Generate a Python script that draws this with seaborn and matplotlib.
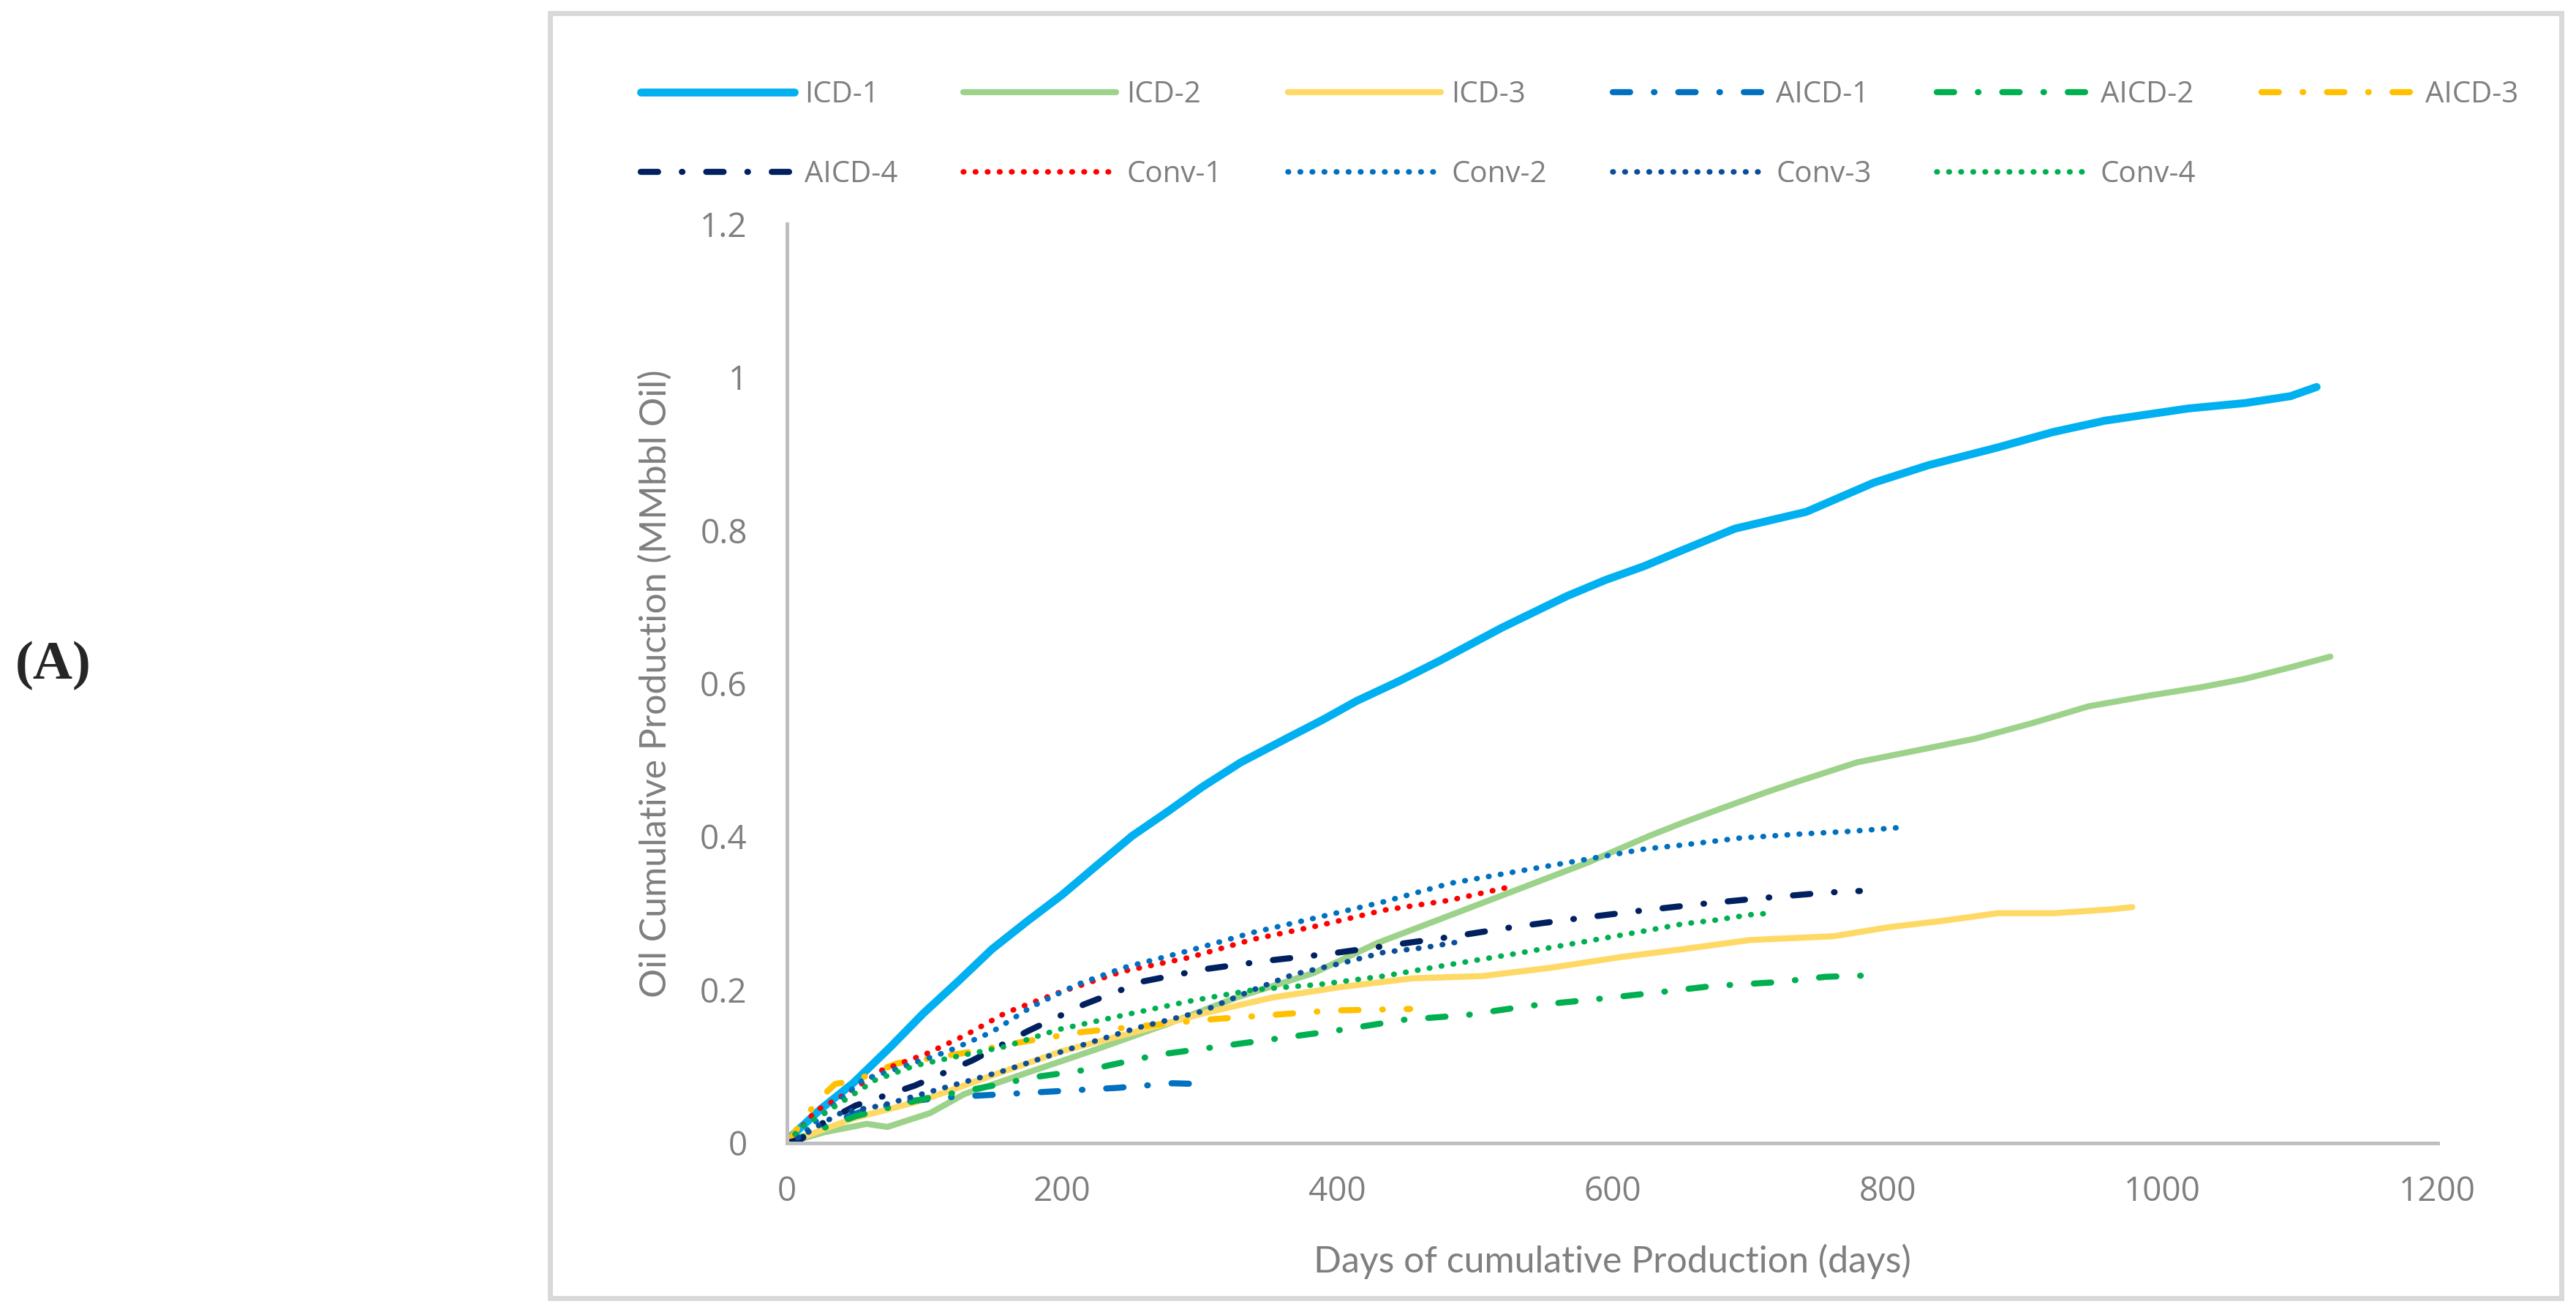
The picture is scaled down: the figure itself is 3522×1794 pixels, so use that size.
import numpy as np
import pandas as pd
import seaborn as sns
import matplotlib.pyplot as plt
from matplotlib.patches import Rectangle

# values (days, MMbbl oil)
icd1_days = [0, 2, 25, 48, 75, 99, 125, 149, 175, 200, 225, 251, 277, 302, 330, 363, 390, 414, 445, 475, 520, 567, 595, 623, 651, 689, 741, 790, 830, 880, 920, 958, 1019, 1060, 1093, 1112]
icd1_vals = [0, 0.007, 0.045, 0.078, 0.125, 0.169, 0.212, 0.253, 0.290, 0.324, 0.362, 0.401, 0.433, 0.465, 0.497, 0.528, 0.553, 0.577, 0.603, 0.630, 0.673, 0.714, 0.735, 0.753, 0.774, 0.802, 0.824, 0.862, 0.885, 0.908, 0.928, 0.943, 0.959, 0.966, 0.975, 0.987]

icd2_days = [0, 27, 58, 73, 104, 129, 175, 226, 276, 327, 383, 429, 470, 521, 582, 627, 651, 678, 712, 735, 778, 820, 864, 905, 946, 990, 1028, 1060, 1093, 1122]
icd2_vals = [0, 0.014, 0.025, 0.021, 0.039, 0.064, 0.092, 0.123, 0.155, 0.190, 0.222, 0.261, 0.289, 0.324, 0.366, 0.401, 0.418, 0.436, 0.458, 0.472, 0.497, 0.512, 0.528, 0.548, 0.570, 0.584, 0.595, 0.606, 0.621, 0.635]

icd3_days = [0, 48, 99, 149, 200, 251, 302, 353, 404, 455, 506, 556, 607, 651, 700, 761, 802, 840, 880, 921, 962, 978]
icd3_vals = [0, 0.032, 0.056, 0.088, 0.120, 0.144, 0.169, 0.190, 0.204, 0.215, 0.218, 0.229, 0.243, 0.253, 0.265, 0.270, 0.282, 0.290, 0.300, 0.300, 0.305, 0.308]

aicd1_days = [0, 10, 30, 60, 90, 120, 160, 200, 240, 280, 301]
aicd1_vals = [0, 0.005, 0.025, 0.045, 0.055, 0.060, 0.064, 0.068, 0.072, 0.078, 0.077]

aicd2_days = [0, 20, 50, 100, 150, 180, 223, 269, 314, 359, 404, 449, 494, 539, 584, 630, 673, 720, 755, 790]
aicd2_vals = [0, 0.015, 0.035, 0.058, 0.075, 0.086, 0.097, 0.115, 0.126, 0.137, 0.148, 0.161, 0.167, 0.179, 0.187, 0.196, 0.205, 0.210, 0.217, 0.219]

aicd3_days = [0, 10, 22, 35, 50, 80, 127, 171, 215, 260, 305, 351, 396, 453]
aicd3_vals = [0, 0.025, 0.055, 0.077, 0.082, 0.104, 0.117, 0.132, 0.145, 0.153, 0.161, 0.167, 0.173, 0.175]

aicd4_days = [0, 10, 20, 30, 50, 93, 135, 175, 216, 259, 304, 349, 394, 438, 482, 528, 574, 619, 664, 710, 756, 780]
aicd4_vals = [0, 0.005, 0.020, 0.030, 0.049, 0.075, 0.108, 0.146, 0.181, 0.211, 0.227, 0.238, 0.247, 0.258, 0.269, 0.282, 0.293, 0.303, 0.312, 0.320, 0.327, 0.329]

conv1_days = [0, 8, 21, 43, 69, 102, 130, 159, 197, 244, 292, 339, 387, 434, 482, 522]
conv1_vals = [0, 0.015, 0.042, 0.064, 0.095, 0.117, 0.141, 0.170, 0.196, 0.224, 0.242, 0.266, 0.284, 0.304, 0.317, 0.333]

conv2_days = [0, 12, 25, 55, 85, 116, 149, 178, 211, 245, 292, 339, 387, 434, 482, 529, 577, 624, 651, 692, 733, 774, 810]
conv2_vals = [0, 0.012, 0.035, 0.082, 0.100, 0.119, 0.145, 0.178, 0.207, 0.229, 0.251, 0.275, 0.295, 0.315, 0.339, 0.354, 0.369, 0.384, 0.389, 0.398, 0.403, 0.407, 0.412]

conv3_days = [0, 12, 25, 40, 69, 112, 159, 206, 254, 302, 339, 368, 406, 434, 463, 493]
conv3_vals = [0, 0.010, 0.025, 0.040, 0.049, 0.071, 0.095, 0.123, 0.150, 0.172, 0.200, 0.220, 0.236, 0.249, 0.255, 0.264]

conv4_days = [0, 10, 36, 64, 93, 126, 159, 197, 245, 292, 339, 387, 434, 482, 529, 577, 624, 651, 675, 700, 715]
conv4_vals = [0, 0.020, 0.049, 0.082, 0.101, 0.114, 0.126, 0.148, 0.167, 0.185, 0.200, 0.207, 0.218, 0.233, 0.247, 0.262, 0.277, 0.286, 0.291, 0.298, 0.300]

names = ['ICD-1', 'ICD-2', 'ICD-3', 'AICD-1', 'AICD-2', 'AICD-3', 'AICD-4',
         'Conv-1', 'Conv-2', 'Conv-3', 'Conv-4']
all_days = [icd1_days, icd2_days, icd3_days, aicd1_days, aicd2_days, aicd3_days, aicd4_days,
            conv1_days, conv2_days, conv3_days, conv4_days]
all_vals = [icd1_vals, icd2_vals, icd3_vals, aicd1_vals, aicd2_vals, aicd3_vals, aicd4_vals,
            conv1_vals, conv2_vals, conv3_vals, conv4_vals]

colors = ['#00B0F0', '#9DD28B', '#FFD966', '#0070C0', '#00B050', '#FFC000', '#002060',
          '#FF0000', '#0070C0', '#0A4E9A', '#00B050']
solid = '-'
dashdot = (0, (2.85, 3.9, 0.1, 3.9))
dotted = (0, (0.1, 2.1))
styles = [solid, solid, solid, dashdot, dashdot, dashdot, dashdot, dotted, dotted, dotted, dotted]
widths = [3.9, 3.0, 3.0, 3.0, 3.0, 3.0, 3.0, 2.7, 2.7, 2.7, 2.7]

sns.set_style('white')
plt.rcParams['font.family'] = ['Open Sans', 'DejaVu Sans']

fig = plt.figure(figsize=(17.61, 8.97), dpi=200)
ax = fig.add_axes([0.3055, 0.1288, 0.6408, 0.7006])

for i in range(len(names)):
    df = pd.DataFrame({'days': all_days[i], 'oil': all_vals[i]})
    sns.lineplot(data=df, x='days', y='oil', ax=ax, color=colors[i], linewidth=widths[i],
                 linestyle=styles[i], label=names[i], estimator=None, sort=False,
                 dash_capstyle='round', solid_capstyle='round')

ax.set_xlim(0, 1200)
ax.set_ylim(0, 1.2)
ax.set_xticks(np.arange(0, 1201, 200))
ax.set_yticks(np.arange(0, 1.21, 0.2))
ax.set_yticklabels(['0', '0.2', '0.4', '0.6', '0.8', '1', '1.2'])
ax.tick_params(axis='both', length=0, labelsize=16.5, labelcolor='#7F7F7F')
ax.tick_params(axis='y', pad=19.5)
ax.tick_params(axis='x', pad=16)
for s in ['top', 'right']:
    ax.spines[s].set_visible(False)
for s in ['left', 'bottom']:
    ax.spines[s].set_color('#BFBFBF')
    ax.spines[s].set_linewidth(1.8)

narrow = ['Lato', 'DejaVu Sans']
ax.set_xlabel('Days of cumulative Production (days)', fontsize=18, color='#7F7F7F', family=narrow)
ax.set_ylabel('Oil Cumulative Production (MMbbl Oil)', fontsize=18, color='#7F7F7F', family=narrow)
ax.xaxis.set_label_coords(0.5, -0.129)
ax.yaxis.set_label_coords(-0.0798, 0.5)
ax.xaxis.label.set_va('center')
ax.yaxis.label.set_va('center')

# excel legend reads row by row; matplotlib fills columns, so reorder
handles, labels = ax.get_legend_handles_labels()
ax.get_legend().remove()
order = [0, 6, 1, 7, 2, 8, 3, 9, 4, 10, 5]
fig.legend([handles[k] for k in order], [labels[k] for k in order], ncol=6,
           loc='upper left', bbox_to_anchor=(856 / 3522, 0.9502), borderpad=0,
           frameon=False, fontsize=14.5, labelcolor='#7F7F7F', handlelength=5.2,
           handletextpad=0.35, columnspacing=2.23, labelspacing=1.7)

fig.add_artist(Rectangle((752 / 3522, 1 - 1775 / 1794), (3502 - 752) / 3522, (1775 - 18) / 1794,
                         transform=fig.transFigure, fill=False, edgecolor='#D9D9D9', linewidth=2.5))

fig.text(73 / 3522, 1 - 910 / 1794, '(A)', fontsize=27, fontweight='bold',
         family=['Liberation Serif', 'DejaVu Serif'], ha='center', va='center')

fig.savefig('out.png', dpi=200)
